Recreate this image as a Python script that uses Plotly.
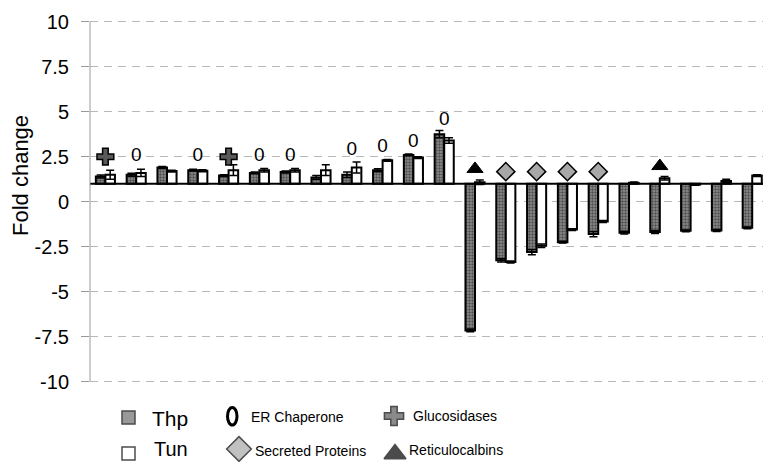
import plotly.graph_objects as go

# ---------------- data ----------------
proteins = list(range(22))  # 22 proteins (no axis labels shown)
thp = [1.4, 1.5, 1.9, 1.75, 1.45, 1.6, 1.65, 1.35, 1.5, 1.75, 2.6, 3.75,
       -7.15, -3.25, -2.8, -2.25, -1.8, -1.72, -1.68, -1.62, -1.6, -1.45]
thp_err = [0.08, 0.08, 0.05, 0.05, 0.05, 0.05, 0.05, 0.1, 0.15, 0.08, 0.05, 0.2,
           0.08, 0.1, 0.15, 0.05, 0.15, 0.08, 0.08, 0.05, 0.05, 0.05]
tun = [1.5, 1.6, 1.7, 1.72, 1.75, 1.75, 1.75, 1.75, 1.9, 2.3, 2.45, 3.4,
       1.08, -3.35, -2.45, -1.55, -1.1, 1.05, 1.3, 0.95, 1.15, 1.45]
tun_err = [0.25, 0.2, 0.05, 0.05, 0.3, 0.1, 0.1, 0.3, 0.3, 0.05, 0.05, 0.15,
           0.12, 0.05, 0.1, 0.05, 0.05, 0.05, 0.1, 0.03, 0.1, 0.05]
N = None
chaperone_y = [N, 2.5, N, 2.5, N, 2.5, 2.5, N, 2.87, 3.05, 3.33, 4.54,
               N, N, N, N, N, N, N, N, N, N]
glucosidase_y = [2.5, N, N, N, 2.5, N, N, N, N, N, N, N,
                 N, N, N, N, N, N, N, N, N, N]
secreted_y = [N, N, N, N, N, N, N, N, N, N, N, N,
              N, 1.67, 1.67, 1.67, 1.67, N, N, N, N, N]
reticulo_y = [N, N, N, N, N, N, N, N, N, N, N, N,
              1.82, N, N, N, N, N, 1.98, N, N, N]
baseline = 1.0
yticks = [10, 7.5, 5, 2.5, 0, -2.5, -5, -7.5, -10]
ytick_text = ["10", "7.5", "5", "2.5", "0", "-2.5", "-5", "-7.5", "-10"]

FONT = "Liberation Sans, Arial, sans-serif"

fig = go.Figure()

fig.add_trace(go.Bar(
    x=proteins, y=[v - baseline for v in thp], base=baseline, name="Thp",
    marker=dict(color="#8f8f8f", line=dict(color="black", width=2),
                pattern=dict(shape=".", fgcolor="#111111", bgcolor="#8f8f8f",
                             size=3, solidity=0.5)),
    error_y=dict(type="data", array=thp_err, color="black", thickness=1.5, width=4),
    showlegend=False))
fig.add_trace(go.Bar(
    x=proteins, y=[v - baseline for v in tun], base=baseline, name="Tun",
    marker=dict(color="white", line=dict(color="black", width=2)),
    error_y=dict(type="data", array=tun_err, color="black", thickness=1.5, width=4),
    showlegend=False))

fig.add_trace(go.Scatter(
    x=proteins, y=chaperone_y, mode="text", text=["0"] * len(proteins),
    textfont=dict(family=FONT, size=19, color="black"), showlegend=False))
fig.add_trace(go.Scatter(
    x=proteins, y=glucosidase_y, mode="markers",
    marker=dict(symbol="cross", size=14, color="#5a5a5a",
                line=dict(color="black", width=1.5)), showlegend=False))
fig.add_trace(go.Scatter(
    x=proteins, y=secreted_y, mode="markers",
    marker=dict(symbol="diamond", size=14, color="#a8a8a8",
                line=dict(color="black", width=1.5)), showlegend=False))
fig.add_trace(go.Scatter(
    x=proteins, y=reticulo_y, mode="markers",
    marker=dict(symbol="triangle-up", size=14, color="black",
                line=dict(color="black", width=1)), showlegend=False))

# ---------------- custom legend (overlay pixel axes) ----------------
leg_sym_x = [128.5, 128.5, 394, 239, 395]
leg_sym_y = [417.5, 453.5, 416, 449, 454]
leg_symbols = ["square", "square", "cross", "diamond", "triangle-up"]
leg_colors = ["#6e6e6e", "white", "#5a5a5a", "#a8a8a8", "black"]
leg_sizes = [13, 13, 16, 19, 19]
fig.add_trace(go.Scatter(
    x=leg_sym_x, y=leg_sym_y, mode="markers", xaxis="x2", yaxis="y2",
    marker=dict(symbol=leg_symbols, size=leg_sizes, color=leg_colors,
                line=dict(color="black", width=1.5)),
    showlegend=False, hoverinfo="skip"))

leg_text = ["Thp", "Tun", "ER Chaperone", "Glucosidases", "Secreted Proteins", "Reticulocalbins"]
leg_tx = [150, 152, 249, 411, 253, 407]
leg_ty = [418, 449, 417, 416, 451, 450]
leg_ts = [21, 20, 14, 14, 14, 14]
annotations = []
for t, x, y, s in zip(leg_text, leg_tx, leg_ty, leg_ts):
    annotations.append(dict(text=t, x=x, y=y, xref="x2", yref="y2",
                            xanchor="left", yanchor="middle", showarrow=False,
                            font=dict(family=FONT, size=s, color="black")))
annotations.append(dict(text="Fold change", x=(21 - 90) / 673, y=(462 - 176) / 442,
                        xref="paper", yref="paper", textangle=-90,
                        xanchor="center", yanchor="middle", showarrow=False,
                        font=dict(family=FONT, size=22, color="black")))

shapes = [
    dict(type="line", xref="paper", yref="y", x0=0, x1=1, y0=baseline, y1=baseline,
         line=dict(color="black", width=2), layer="above"),
    dict(type="line", xref="paper", yref="y", x0=0, x1=0, y0=-10, y1=10,
         line=dict(color="#999999", width=1)),
    dict(type="circle", xref="x2", yref="y2", x0=227.5, x1=237, y0=407.5, y1=425,
         line=dict(color="black", width=3)),
]

fig.update_layout(
    width=763, height=462,
    margin=dict(l=90, r=0, t=20, b=0),
    paper_bgcolor="white", plot_bgcolor="white",
    barmode="group", bargap=0.38, bargroupgap=0,
    xaxis=dict(range=[-0.5, 21.35], visible=False),
    yaxis=dict(range=[-14.461, 10.094], tickvals=yticks, ticktext=ytick_text,
               showgrid=True, gridcolor="#b8b8b8", griddash="8px,6px", gridwidth=1,
               zeroline=False, showline=False, ticks="outside", ticklen=8,
               tickcolor="#999999", tickwidth=1, ticklabelstandoff=8,
               tickfont=dict(family=FONT, size=20, color="black")),
    xaxis2=dict(range=[90, 763], overlaying="x", visible=False, anchor="y2"),
    yaxis2=dict(range=[462, 20], overlaying="y", visible=False, anchor="x2"),
    annotations=annotations, shapes=shapes,
    showlegend=False,
)

fig.write_html("out.html", config={"displayModeBar": False},
               post_script="document.body.style.margin='0px';"
                           "document.body.style.overflow='hidden';")
